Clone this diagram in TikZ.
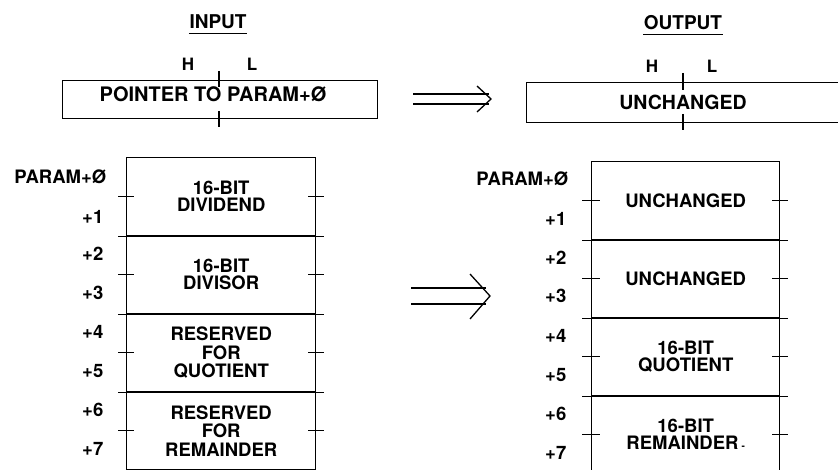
\documentclass[tikz,border=0pt]{standalone}
\usepackage{fontspec}
\setmainfont{TeX Gyre Heros}
\begin{document}
\begin{tikzpicture}[x=1pt,y=-1pt,line width=1.4pt,
  cell/.style={draw, minimum width=189pt, minimum height=78pt, inner sep=0pt,
    anchor=north west, align=center, font=\fontsize{18.5}{17}\selectfont\bfseries},
  cell3/.style={cell, font=\fontsize{18.5}{18.5}\selectfont\bfseries},
  ocell/.style={cell, minimum width=188pt},
  lbl/.style={anchor=east, inner sep=0pt, font=\fontsize{18.5}{18.5}\selectfont\bfseries},
  title/.style={inner sep=0pt, font=\fontsize{19}{19}\selectfont\bfseries},
  hl/.style={inner sep=0pt, font=\fontsize{17}{17}\selectfont\bfseries},
  ptr/.style={draw, inner sep=0pt, anchor=north west},
  ptrtext/.style={inner sep=0pt, font=\fontsize{20}{20}\selectfont\bfseries},
  arr/.style={line width=1.3pt}]
\useasboundingbox (0,0) rectangle (838,470);
\clip (0,0) rectangle (838,470);

% titles
\node[title] (tin) at (218,22) {INPUT};
\draw[line width=1pt] ([yshift=-4pt]tin.south west) -- ([yshift=-4pt]tin.south east);
\node[title] (tout) at (683,23) {OUTPUT};
\draw[line width=1pt] ([yshift=-4pt]tout.south west) -- ([yshift=-4pt]tout.south east);

% H / L
\node[hl] (hin) at (188,64) {H};
\node[hl] (lin) at (252,64) {L};
\node[hl] (hout) at (652,66) {H};
\node[hl] (lout) at (712,66) {L};

% pointer boxes
\node[ptr, minimum width=315pt, minimum height=38pt] (pin) at (62,80) {};
\node[ptrtext] (pintext) at (213,94) {POINTER TO PARAM+Ø};
\draw (219,71) -- (219,87);
\draw (219,111) -- (219,127);
\node[ptr, minimum width=312pt, minimum height=40pt] (pout) at (526,82) {};
\node[ptrtext, font=\fontsize{19.5}{19.5}\selectfont\bfseries] (pouttext) at (683,102) {UNCHANGED};
\draw (683,73) -- (683,90);
\draw (683,114) -- (683,130);

% arrows
\coordinate (a1e) at (491,99);
\draw[arr] (413,94) -- (489,94);
\draw[arr] (413,104) -- (489,104);
\draw[arr] (477,86) -- (a1e) -- (477,112);
\coordinate (a2e) at (490,296);
\draw[arr] (411,288) -- (486,288);
\draw[arr] (411,304) -- (486,304);
\draw[arr] (470,274) -- (a2e) -- (470,319);

% input memory
\node[cell] (in1) at (126,157) {16-BIT\\DIVIDEND};
\node[cell] (in2) at (126,235) {16-BIT\\DIVISOR};
\node[cell3] (in3) at (126,313) {RESERVED\\FOR\\QUOTIENT};
\node[cell3] (in4) at (126,391) {RESERVED\\FOR\\REMAINDER};
\foreach \c in {in1,in2,in3} {
  \draw ([xshift=-8pt]\c.south west) -- ([xshift=8pt]\c.south east);
}
\foreach \c in {in1,in2,in3,in4} {
  \draw ([xshift=-8pt]\c.west) -- ([xshift=8pt]\c.west);
  \draw ([xshift=-8pt]\c.east) -- ([xshift=8pt]\c.east);
}
\node[lbl] (l0) at (107,176.5) {PARAM+Ø};
\node[lbl] (l1) at (104,217) {+1};
\node[lbl] (l2) at (104,254) {+2};
\node[lbl] (l3) at (104,293) {+3};
\node[lbl] (l4) at (104,332) {+4};
\node[lbl] (l5) at (104,371) {+5};
\node[lbl] (l6) at (104,410) {+6};
\node[lbl] (l7) at (104,449) {+7};

% output memory
\node[ocell] (out1) at (591,161) {UNCHANGED};
\node[ocell] (out2) at (591,239) {UNCHANGED};
\node[ocell] (out3) at (591,317) {16-BIT\\QUOTIENT};
\node[ocell] (out4) at (591,395) {16-BIT\\REMAINDER\,{\fontsize{10}{10}\selectfont -}};
\foreach \c in {out1,out2,out3} {
  \draw ([xshift=-9pt]\c.south west) -- ([xshift=8pt]\c.south east);
}
\foreach \c in {out1,out2,out3,out4} {
  \draw ([xshift=-9pt]\c.west) -- ([xshift=9pt]\c.west);
  \draw ([xshift=-8pt]\c.east) -- ([xshift=8pt]\c.east);
}
\node[lbl] (r0) at (569,179) {PARAM+Ø};
\node[lbl] (r1) at (567,219) {+1};
\node[lbl] (r2) at (567,258) {+2};
\node[lbl] (r3) at (567,296) {+3};
\node[lbl] (r4) at (567,336) {+4};
\node[lbl] (r5) at (567,375) {+5};
\node[lbl] (r6) at (567,414) {+6};
\node[lbl] (r7) at (567,453) {+7};
\end{tikzpicture}
\end{document}
